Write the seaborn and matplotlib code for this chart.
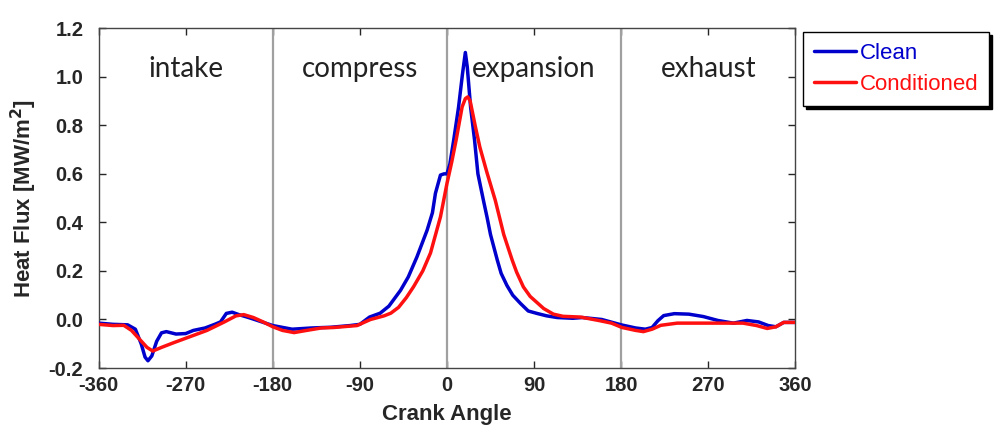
import matplotlib
matplotlib.use("Agg")
import matplotlib.pyplot as plt
from matplotlib.lines import Line2D
import seaborn as sns
import pandas as pd

# ---- data ----
clean_x = [-360, -345, -330, -322, -316, -312, -309, -305, -300, -295, -290, -280, -270, -262, -250,
           -240, -234, -228, -222, -215, -205, -195, -180, -160, -140, -120, -100, -90, -80, -69,
           -60, -48, -40, -31, -20.5, -15, -11.9, -6.7, -3, 0, 3, 7, 12, 16, 19, 21, 24.4, 28.5,
           32, 38, 41.5, 45, 52, 56, 62, 68, 76, 84, 93, 103, 114, 130, 140, 160, 180, 195, 205,
           212, 218, 224, 235, 250, 265, 280, 296, 310, 322, 332, 340, 348, 360]
clean_y = [-0.015, -0.02, -0.022, -0.04, -0.10, -0.155, -0.17, -0.15, -0.09, -0.055, -0.05, -0.06,
           -0.058, -0.045, -0.035, -0.02, -0.01, 0.025, 0.03, 0.02, 0.008, -0.005, -0.025, -0.04,
           -0.035, -0.032, -0.025, -0.02, 0.01, 0.026, 0.055, 0.12, 0.175, 0.258, 0.368, 0.44,
           0.52, 0.595, 0.60, 0.60, 0.64, 0.74, 0.875, 1.01, 1.10, 1.04, 0.876, 0.74, 0.60, 0.485,
           0.42, 0.35, 0.245, 0.19, 0.14, 0.10, 0.066, 0.035, 0.025, 0.015, 0.008, 0.005, 0.008,
           0.0, -0.022, -0.035, -0.04, -0.033, -0.005, 0.016, 0.024, 0.022, 0.012, -0.004, -0.015,
           -0.004, -0.01, -0.025, -0.03, -0.012, -0.012]

cond_x = [-360, -345, -334, -326, -318, -310, -304, -295, -282, -265, -248, -230, -218, -210, -200,
          -190, -180, -170, -158, -145, -130, -117, -93, -79, -65, -58, -50, -42, -34.5, -25, -17,
          -6.7, 0, 5, 9.5, 15.7, 19, 21.5, 24, 29.4, 34, 41, 47, 50, 58.7, 62, 67.4, 72, 79, 86,
          93, 100, 110, 120, 138, 158, 170, 181, 195, 203, 212, 221, 238, 272, 306, 320, 331, 340,
          348, 360]
cond_y = [-0.02, -0.025, -0.024, -0.045, -0.08, -0.115, -0.13, -0.115, -0.095, -0.07, -0.045,
          -0.01, 0.015, 0.02, 0.008, -0.01, -0.03, -0.045, -0.054, -0.045, -0.035, -0.033, -0.025,
          0.0, 0.015, 0.026, 0.05, 0.09, 0.135, 0.20, 0.274, 0.423, 0.56, 0.65, 0.74, 0.876, 0.91,
          0.917, 0.90, 0.794, 0.71, 0.61, 0.53, 0.49, 0.35, 0.31, 0.245, 0.195, 0.134, 0.095,
          0.07, 0.045, 0.022, 0.013, 0.01, -0.005, -0.015, -0.033, -0.045, -0.05, -0.04, -0.024,
          -0.015, -0.015, -0.015, -0.025, -0.037, -0.03, -0.012, -0.012]

series_names = ["Clean", "Conditioned"]
phase_names = ["intake", "compress", "expansion", "exhaust"]
phase_centers = [-270, -90, 90, 270]
phase_bounds = [-180, 0, 180]
x_ticks = [-360, -270, -180, -90, 0, 90, 180, 270, 360]
y_ticks = [-0.2, 0.0, 0.2, 0.4, 0.6, 0.8, 1.0, 1.2]

df = pd.concat([
    pd.DataFrame({"angle": clean_x, "flux": clean_y, "series": series_names[0]}),
    pd.DataFrame({"angle": cond_x, "flux": cond_y, "series": series_names[1]}),
])

sns.set_style("ticks")
plt.rcParams["font.family"] = ["Liberation Sans", "DejaVu Sans"]

fig = plt.figure(figsize=(9.96, 4.34), dpi=100)
ax = fig.add_axes([0.099, 0.152, 0.6995, 0.783])

colors = {"Clean": "#0000CC", "Conditioned": "#FF1010"}
for b in phase_bounds:
    ax.axvline(b, color="#a0a0a0", lw=1.6, zorder=1)

sns.lineplot(data=df, x="angle", y="flux", hue="series", palette=colors,
             estimator=None, sort=False, lw=2.5, ax=ax, legend=False, zorder=3)

for name, cx in zip(phase_names, phase_centers):
    ax.text(cx, 1.03, name, ha="center", va="center", fontsize=20,
            family=["Lato", "DejaVu Sans"], color="#222222")

ax.set_xlim(-360, 360)
ax.set_ylim(-0.2, 1.2)
ax.set_xticks(x_ticks)
ax.set_yticks(y_ticks)
ax.set_xticklabels([str(t) for t in x_ticks], fontsize=14.5, fontweight="bold")
ax.set_yticklabels([f"{t:.1f}" for t in y_ticks], fontsize=14.5, fontweight="bold")
ax.tick_params(direction="in", top=True, right=True, length=5, width=1)
ax.tick_params(axis="x", pad=6)
ax.tick_params(axis="y", pad=11)
for s in ax.spines.values():
    s.set_color("#444444")
    s.set_linewidth(1)
ax.set_xlabel("Crank Angle", fontsize=16, fontweight="bold")
ax.set_ylabel("Heat Flux [MW/m$^\\mathbf{2}$]", fontsize=16, fontweight="bold")
ax.xaxis.set_label_coords(0.5, -0.105)
ax.yaxis.set_label_coords(-0.086, 0.5)

handles = [Line2D([0], [0], color=colors[n], lw=2.5) for n in series_names]
leg = fig.legend(handles, series_names, loc="upper left", bbox_to_anchor=(0.806, 0.926),
                 frameon=True, fancybox=False, fontsize=16, handlelength=1.9,
                 handletextpad=0.15, borderpad=0.5, labelspacing=0.45, borderaxespad=0,
                 shadow={"color": "black", "alpha": 1})
leg.get_frame().set_edgecolor("black")
leg.get_frame().set_linewidth(1)
for t, n in zip(leg.get_texts(), series_names):
    t.set_color(colors[n])

fig.savefig("out.png", dpi=100)
